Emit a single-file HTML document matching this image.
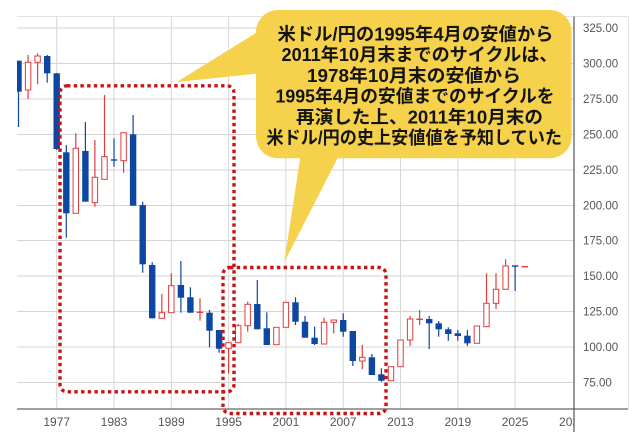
<!DOCTYPE html>
<html><head><meta charset="utf-8"><style>
html,body{margin:0;padding:0;background:#fff;}
svg{display:block;}
.bt{font-family:"Liberation Sans","Noto Sans CJK JP",sans-serif;font-size:18px;font-weight:700;fill:#141414;}
.ax{font-family:"Liberation Sans",sans-serif;fill:#555;}
</style></head><body>
<svg width="640" height="432" viewBox="0 0 640 432" xmlns="http://www.w3.org/2000/svg">
<defs>
<clipPath id="plot"><rect x="17" y="16.5" width="557" height="392.5"/></clipPath>
<clipPath id="xl"><rect x="0" y="409" width="574" height="23"/></clipPath>
</defs>
<rect width="640" height="432" fill="#fff"/>
<!-- grid -->
<g stroke="#d6d6d6" stroke-width="1">
<line x1="17" y1="16.5" x2="628" y2="16.5" stroke="#e2e2e2"/>
<line x1="628.5" y1="16.5" x2="628.5" y2="409" stroke="#e2e2e2"/>
<line x1="17" y1="28" x2="574" y2="28"/>
<line x1="17" y1="63.5" x2="574" y2="63.5"/>
<line x1="17" y1="99" x2="574" y2="99"/>
<line x1="17" y1="134.5" x2="574" y2="134.5"/>
<line x1="17" y1="170" x2="574" y2="170"/>
<line x1="17" y1="205.5" x2="574" y2="205.5"/>
<line x1="17" y1="240.5" x2="574" y2="240.5"/>
<line x1="17" y1="276" x2="574" y2="276"/>
<line x1="17" y1="311.5" x2="574" y2="311.5"/>
<line x1="17" y1="347" x2="574" y2="347"/>
<line x1="17" y1="382.5" x2="574" y2="382.5"/>
<line x1="56.7" y1="16.5" x2="56.7" y2="409"/>
<line x1="114" y1="16.5" x2="114" y2="409"/>
<line x1="171.3" y1="16.5" x2="171.3" y2="409"/>
<line x1="228.6" y1="16.5" x2="228.6" y2="409"/>
<line x1="285.9" y1="16.5" x2="285.9" y2="409"/>
<line x1="343.2" y1="16.5" x2="343.2" y2="409"/>
<line x1="400.5" y1="16.5" x2="400.5" y2="409"/>
<line x1="457.8" y1="16.5" x2="457.8" y2="409"/>
<line x1="515.1" y1="16.5" x2="515.1" y2="409"/>
</g>
<!-- candles -->
<g clip-path="url(#plot)">
<g stroke="#0d47a1" stroke-width="1.2">
<line x1="18.5" y1="60.7" x2="18.5" y2="127"/>
<line x1="47.2" y1="55" x2="47.2" y2="82.7"/>
<line x1="56.7" y1="73" x2="56.7" y2="150"/>
<line x1="66.3" y1="145" x2="66.3" y2="237.7"/>
<line x1="85.4" y1="122" x2="85.4" y2="201.7"/>
<line x1="114" y1="138.3" x2="114" y2="166.7"/>
<line x1="133.1" y1="115" x2="133.1" y2="205.7"/>
<line x1="142.7" y1="201.7" x2="142.7" y2="272.7"/>
<line x1="152.2" y1="262.3" x2="152.2" y2="318.3"/>
<line x1="180.9" y1="261" x2="180.9" y2="312.7"/>
<line x1="190.4" y1="287.3" x2="190.4" y2="312.7"/>
<line x1="209.5" y1="310" x2="209.5" y2="347.3"/>
<line x1="219.1" y1="330" x2="219.1" y2="352.7"/>
<line x1="257.3" y1="280" x2="257.3" y2="329.3"/>
<line x1="266.8" y1="312.3" x2="266.8" y2="345"/>
<line x1="295.5" y1="297.3" x2="295.5" y2="325"/>
<line x1="305" y1="316" x2="305" y2="337.7"/>
<line x1="314.6" y1="326.7" x2="314.6" y2="345"/>
<line x1="343.2" y1="313.3" x2="343.2" y2="336.7"/>
<line x1="352.8" y1="331" x2="352.8" y2="366"/>
<line x1="371.9" y1="354" x2="371.9" y2="375"/>
<line x1="381.4" y1="368.3" x2="381.4" y2="381.7"/>
<line x1="429.2" y1="316" x2="429.2" y2="349"/>
<line x1="438.7" y1="321" x2="438.7" y2="336.7"/>
<line x1="448.3" y1="327.3" x2="448.3" y2="340.7"/>
<line x1="457.8" y1="330" x2="457.8" y2="340.7"/>
<line x1="467.4" y1="330" x2="467.4" y2="346"/>
<line x1="515.1" y1="265.7" x2="515.1" y2="291"/>
<line x1="110.8" y1="160" x2="117.2" y2="160" stroke-width="1.4"/>
<line x1="511.9" y1="266" x2="518.3" y2="266" stroke-width="1.4"/>
</g>
<g fill="#0d47a1">
<rect x="15.3" y="60.7" width="6.4" height="31"/>
<rect x="44" y="56" width="6.4" height="17.3"/>
<rect x="53.5" y="73.3" width="6.4" height="75.7"/>
<rect x="63.1" y="152.3" width="6.4" height="61"/>
<rect x="82.2" y="151" width="6.4" height="50.7"/>
<rect x="129.9" y="134.3" width="6.4" height="71.4"/>
<rect x="139.5" y="205" width="6.4" height="59.3"/>
<rect x="149" y="265" width="6.4" height="53.3"/>
<rect x="177.7" y="285" width="6.4" height="12.7"/>
<rect x="187.2" y="297.3" width="6.4" height="15.4"/>
<rect x="206.3" y="312.7" width="6.4" height="18"/>
<rect x="215.9" y="330" width="6.4" height="18.7"/>
<rect x="254.1" y="304" width="6.4" height="25.3"/>
<rect x="263.6" y="328.3" width="6.4" height="16.7"/>
<rect x="292.3" y="302.3" width="6.4" height="19.4"/>
<rect x="301.8" y="321.7" width="6.4" height="16"/>
<rect x="311.4" y="337.7" width="6.4" height="6.3"/>
<rect x="340" y="320" width="6.4" height="11.7"/>
<rect x="349.6" y="331" width="6.4" height="30"/>
<rect x="368.7" y="357.3" width="6.4" height="17.7"/>
<rect x="378.2" y="374.3" width="6.4" height="6.4"/>
<rect x="426" y="319" width="6.4" height="4.3"/>
<rect x="435.5" y="323.3" width="6.4" height="6"/>
<rect x="445.1" y="329.3" width="6.4" height="4.7"/>
<rect x="454.6" y="333.3" width="6.4" height="2.7"/>
<rect x="464.2" y="335.7" width="6.4" height="7.6"/>
</g>
<g stroke="#e03c3c" stroke-width="1.2">
<line x1="28.1" y1="55" x2="28.1" y2="99"/>
<line x1="37.6" y1="53.3" x2="37.6" y2="84.3"/>
<line x1="75.8" y1="133.3" x2="75.8" y2="213.3"/>
<line x1="94.9" y1="140" x2="94.9" y2="206.7"/>
<line x1="104.5" y1="95" x2="104.5" y2="179.3"/>
<line x1="123.6" y1="132.7" x2="123.6" y2="172.7"/>
<line x1="161.8" y1="294" x2="161.8" y2="318.3"/>
<line x1="171.3" y1="273.3" x2="171.3" y2="312.7"/>
<line x1="200" y1="298.3" x2="200" y2="320.7"/>
<line x1="228.6" y1="342.7" x2="228.6" y2="373.3"/>
<line x1="238.2" y1="324" x2="238.2" y2="342.7"/>
<line x1="247.7" y1="301.7" x2="247.7" y2="331.7"/>
<line x1="324.1" y1="317.7" x2="324.1" y2="344"/>
<line x1="333.7" y1="320" x2="333.7" y2="333.3"/>
<line x1="362.3" y1="345" x2="362.3" y2="369.3"/>
<line x1="410.1" y1="316" x2="410.1" y2="346"/>
<line x1="419.6" y1="310" x2="419.6" y2="325"/>
<line x1="486.5" y1="273.3" x2="486.5" y2="326.7"/>
<line x1="496" y1="273.3" x2="496" y2="309"/>
<line x1="505.6" y1="259.3" x2="505.6" y2="289.3"/>
<line x1="196.8" y1="312.3" x2="203.2" y2="312.3" stroke-width="1.4"/>
<line x1="416.4" y1="319.3" x2="422.8" y2="319.3" stroke-width="1.4"/>
<line x1="521.5" y1="266.7" x2="527.9" y2="266.7" stroke-width="1.4"/>
</g>
<g fill="#fff" stroke="#e03c3c" stroke-width="1">
<rect x="25.4" y="62.3" width="5.4" height="27.7"/>
<rect x="34.9" y="56" width="5.4" height="6.3"/>
<rect x="73.1" y="148.3" width="5.4" height="65"/>
<rect x="92.2" y="177.3" width="5.4" height="25.4"/>
<rect x="101.8" y="156.7" width="5.4" height="22.6"/>
<rect x="120.9" y="132.7" width="5.4" height="28"/>
<rect x="159.1" y="312.7" width="5.4" height="5.6"/>
<rect x="168.6" y="285.7" width="5.4" height="27"/>
<rect x="225.9" y="342.7" width="5.4" height="5.6"/>
<rect x="235.5" y="325.7" width="5.4" height="17"/>
<rect x="245" y="304.3" width="5.4" height="21.4"/>
<rect x="273.7" y="327.3" width="5.4" height="17.4"/>
<rect x="283.2" y="302.3" width="5.4" height="25"/>
<rect x="321.4" y="322.3" width="5.4" height="21.7"/>
<rect x="331" y="320" width="5.4" height="2.3"/>
<rect x="359.6" y="357.3" width="5.4" height="3.7"/>
<rect x="388.3" y="366.7" width="5.4" height="14"/>
<rect x="397.8" y="340" width="5.4" height="26.7"/>
<rect x="407.4" y="319" width="5.4" height="21"/>
<rect x="474.2" y="326" width="5.4" height="17.3"/>
<rect x="483.8" y="303.3" width="5.4" height="23.4"/>
<rect x="493.3" y="289.3" width="5.4" height="14"/>
<rect x="502.9" y="266" width="5.4" height="23.3"/>
</g>
</g>
<!-- dotted rectangles -->
<g fill="none" stroke="#c81414" stroke-width="3.4" stroke-dasharray="3.4 3.3">
<rect x="60" y="85.8" width="174" height="306" rx="7"/>
<rect x="223" y="267.5" width="163" height="146" rx="7"/>
</g>
<!-- axes -->
<line x1="17" y1="409" x2="628" y2="409" stroke="#666" stroke-width="1.2"/>
<line x1="574" y1="16.5" x2="574" y2="432" stroke="#555" stroke-width="1.2"/>
<!-- bubble -->
<g fill="#f6d14b">
<polygon points="176.7,82 264,28 264,73"/>
<polygon points="301.4,150 341.8,150 284.3,262"/>
<rect x="256" y="10" width="315.7" height="148.3" rx="22"/>
</g>
<g class="bt">
<text x="277.5" y="40.5" textLength="276" lengthAdjust="spacingAndGlyphs">米ドル/円の1995年4月の安値から</text>
<text x="281.5" y="61.2" textLength="276" lengthAdjust="spacingAndGlyphs">2011年10月末までのサイクルは、</text>
<text x="307" y="81.9" textLength="214" lengthAdjust="spacingAndGlyphs">1978年10月末の安値から</text>
<text x="275.5" y="102.6" textLength="279" lengthAdjust="spacingAndGlyphs">1995年4月の安値までのサイクルを</text>
<text x="296" y="123.3" textLength="247" lengthAdjust="spacingAndGlyphs">再演した上、2011年10月末の</text>
<text x="266.5" y="144" textLength="295.5" lengthAdjust="spacingAndGlyphs">米ドル/円の史上安値値を予知していた</text>
</g>
<!-- y labels -->
<g class="ax" font-size="11.5">
<text x="583" y="32">325.00</text>
<text x="583" y="67.5">300.00</text>
<text x="583" y="103">275.00</text>
<text x="583" y="138.5">250.00</text>
<text x="583" y="174">225.00</text>
<text x="583" y="209.5">200.00</text>
<text x="583" y="244.5">175.00</text>
<text x="583" y="280">150.00</text>
<text x="583" y="315.5">125.00</text>
<text x="583" y="351">100.00</text>
<text x="583" y="386.5">75.00</text>
</g>
<!-- x labels -->
<g class="ax" font-size="12" text-anchor="middle" clip-path="url(#xl)">
<text x="56.7" y="426">1977</text>
<text x="114" y="426">1983</text>
<text x="171.3" y="426">1989</text>
<text x="228.6" y="426">1995</text>
<text x="285.9" y="426">2001</text>
<text x="343.2" y="426">2007</text>
<text x="400.5" y="426">2013</text>
<text x="457.8" y="426">2019</text>
<text x="515.1" y="426">2025</text>
<text x="572.4" y="426">2031</text>
</g>
</svg>
</body></html>
